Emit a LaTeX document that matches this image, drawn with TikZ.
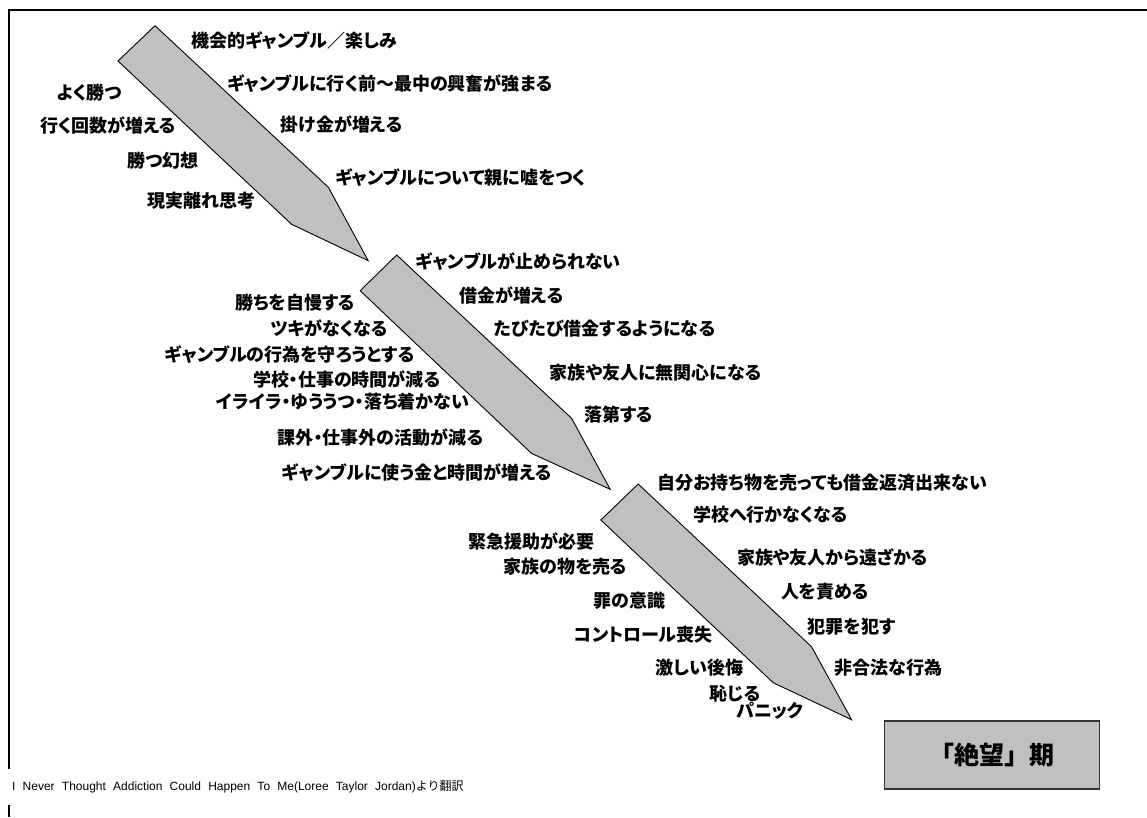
\documentclass[tikz,border=0pt]{standalone}
\usepackage{fontspec}
\newfontfamily\jp{Noto Sans CJK JP}[RawFeature=+palt]
\newfontfamily\jpl{Noto Sans CJK JP}
\newfontfamily\lat{Liberation Sans}
\definecolor{pencilgray}{HTML}{C0C0C0}
\definecolor{boxedge}{HTML}{333333}
\begin{document}
\begin{tikzpicture}[x=1pt,y=-1pt,
  pencil/.style={draw=black, line width=0.9pt, fill=pencilgray, line join=miter},
  lbl/.style={anchor=west, inner sep=0pt, text height=0.95em, text depth=0pt,
    font=\jp\bfseries\fontsize{18}{18}\selectfont},
  stagebox/.style={draw=boxedge, line width=1.3pt, fill=pencilgray,
    minimum width=215pt, minimum height=68pt, inner sep=0pt,
    font=\jpl\bfseries\fontsize{25}{25}\selectfont},
  frameline/.style={draw=black, line width=2pt},
  source/.style={anchor=west, fill=white, inner xsep=6pt, inner ysep=0pt,
    minimum height=36pt, font=\jpl\fontsize{12}{12}\selectfont}]
\useasboundingbox (0,0) rectangle (1147,817);
% frame
\coordinate (fbl) at (9,817);
\coordinate (ftl) at (9,10);
\coordinate (ftr) at (1147,10);
\draw[frameline] (fbl) -- (ftl) -- (ftr);
% pencils
\draw[pencil] (155,25.7) -- (118,61) -- (291.6,224.3) -- (368.2,260.7) -- (328.4,187.3) -- cycle;
\draw[pencil] (396.7,255) -- (360.2,290.7) -- (531.4,453.3) -- (610.2,489.3) -- (571.6,418.3) -- cycle;
\draw[pencil] (638.2,484) -- (600.8,520) -- (773.2,682.7) -- (851.6,719.7) -- (811.5,646.7) -- cycle;
% stage 1 labels
\node[lbl] (a1) at (191,42.3) {機会的ギャンブル／楽しみ};
\node[lbl] (a2) at (227,86) {ギャンブルに行く前～最中の興奮が強まる};
\node[lbl] (a3) at (280.5,126.7) {掛け金が増える};
\node[lbl] (a4) at (335,179.3) {ギャンブルについて親に嘘をつく};
\node[lbl] (a5) at (56.6,94.3) {よく勝つ};
\node[lbl] (a6) at (40.2,127.3) {行く回数が増える};
\node[lbl] (a7) at (127.4,162.3) {勝つ幻想};
\node[lbl] (a8) at (147.3,202.7) {現実離れ思考};
% stage 2 labels
\node[lbl] (b1) at (415.3,263.3) {ギャンブルが止められない};
\node[lbl] (b2) at (458.9,297.3) {借金が増える};
\node[lbl] (b3) at (494.1,330.7) {たびたび借金するようになる};
\node[lbl] (b4) at (549.3,374.3) {家族や友人に無関心になる};
\node[lbl] (b5) at (584,416.7) {落第する};
\node[lbl] (b6) at (235,305) {勝ちを自慢する};
\node[lbl] (b7) at (270.2,330.7) {ツキがなくなる};
\node[lbl] (b8) at (164.5,356.7) {ギャンブルの行為を守ろうとする};
\node[lbl] (b9) at (252.8,381.7) {学校・仕事の時間が減る};
\node[lbl] (b10) at (216.3,404) {イライラ・ゆううつ・落ち着かない};
\node[lbl] (b11) at (277.7,440) {課外・仕事外の活動が減る};
\node[lbl] (b12) at (281.8,475) {ギャンブルに使う金と時間が増える};
% stage 3 labels
\node[lbl] (c1) at (657.2,485) {自分お持ち物を売っても借金返済出来ない};
\node[lbl] (c2) at (692.8,516.7) {学校へ行かなくなる};
\node[lbl] (c3) at (736.8,560) {家族や友人から遠ざかる};
\node[lbl] (c4) at (780.8,593.3) {人を責める};
\node[lbl] (c5) at (807.6,628.3) {犯罪を犯す};
\node[lbl] (c6) at (834.4,670) {非合法な行為};
\node[lbl] (c7) at (468.1,544) {緊急援助が必要};
\node[lbl] (c8) at (503.3,568.3) {家族の物を売る};
\node[lbl] (c9) at (593.3,602.7) {罪の意識};
\node[lbl] (c10) at (574.1,636.7) {コントロール喪失};
\node[lbl] (c11) at (655.6,670) {激しい後悔};
\node[lbl] (c12) at (709.2,696) {恥じる};
\node[lbl] (c13) at (736,712.7) {パニック};
% final stage box
\node[stagebox] (stage) at (991.8,755) {「絶望」期};
% source note
\node[source] (src) at (6,787) {{\lat\spaceskip=0.6em\relax I Never Thought Addiction Could Happen To Me(Loree Taylor Jordan)}より翻訳};
\end{tikzpicture}
\end{document}
